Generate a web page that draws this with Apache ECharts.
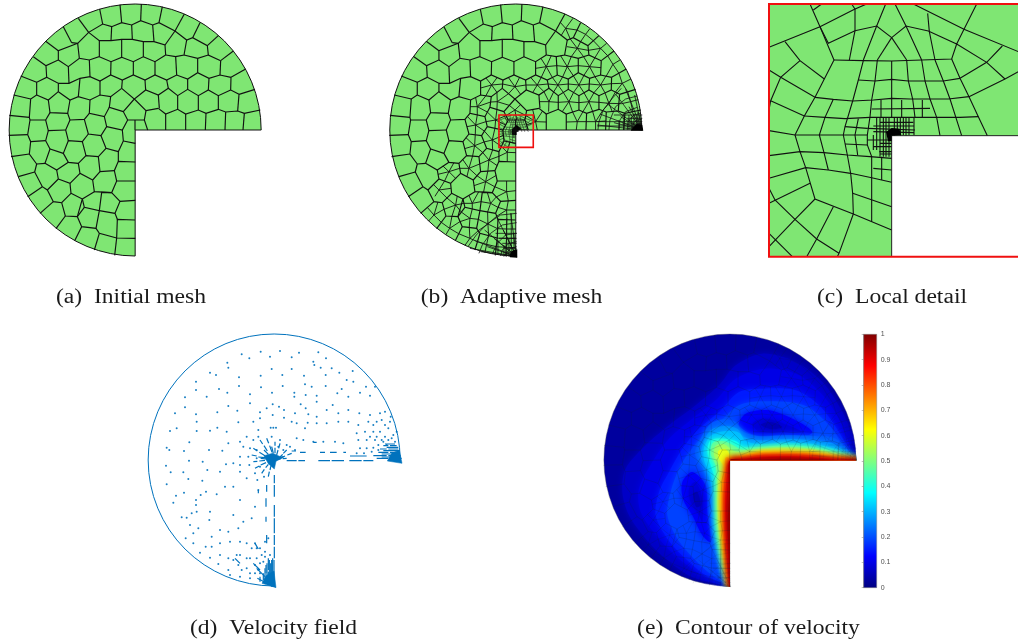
<!DOCTYPE html>
<html><head><meta charset="utf-8">
<style>html,body{margin:0;padding:0;background:#fff}#c{width:1018px;height:643px}</style>
<script src="https://cdn.jsdelivr.net/npm/echarts@6/dist/echarts.min.js"></script>
</head><body><div id="c"></div>
<script>
const captions = ['(a)  Initial mesh','(b)  Adaptive mesh','(c)  Local detail','(d)  Velocity field','(e)  Contour of velocity'];
const colorbarTicks = [0,0.1,0.2,0.3,0.4,0.5,0.6,0.7,0.8,0.9,1];
const domainCenter = [405.5,390];
const domainRadius = 378;

const meshA = [
[765,268,717,283],[737,207,693,232],[700,153,662,182],[655,107,622,137],[600,68,578,113],[553,42,525,93],[487,20,477,68],[424,12,422,62],[360,14,365,68],[299,27,308,72],[235,55,266,97],[190,80,215,128],[137,124,175,152],[100,170,138,197],[62,228,110,247],[41,285,92,297],[28,346,88,352],[26,406,83,404],[33,470,88,462],[55,530,104,516],[83,590,127,560],[120,640,160,605],[168,686,196,648],[224,722,245,680],[283,750,298,700],[344,766,350,714],
[717,283,692,270,693,232],[662,182,625,165,622,137,578,113,560,120,525,93,477,68,458,75,422,62,395,75,365,68,335,80,308,72,266,97,233,130,215,128],
[233,130,175,152,175,180,138,197,140,232,110,247,110,285,92,297,88,352,90,360,83,404,92,425,88,462,110,492,104,516,127,560,142,570,160,605,185,608,196,648,232,650,245,680,288,685,298,700,350,714],
[406,715,350,714,352,658,405,660],[406,601,360,604,345,640,352,658],[406,543,350,543,335,578,360,604],[406,486,355,484,343,512,350,543],[406,430,370,423],
[335,80,333,122],[395,75,397,118],[458,75,462,125],[525,93,495,135],
[266,97,298,122,333,122,365,118,397,118,430,125,462,125,495,135,497,165],[298,122,298,170,268,180,238,175,233,130],[238,175,205,200,175,180],
[365,118,365,172,333,185,298,170],[430,125,430,170,400,185,365,172],[497,165,465,185,430,170],[560,120,552,165,527,170,497,165],[552,165,593,175,625,165],
[268,180,270,230],[205,200,207,250],[333,185,332,225],[400,185,400,225],[465,185,465,225],[527,170,530,225],[593,175,593,218],[662,182,660,225],
[175,250,207,250,240,235,270,230,300,243,332,225,367,240,400,225,435,240,465,225,500,240,530,225,563,237,593,218,627,235,660,225,693,232],[140,232,175,250,175,275],
[500,240,505,265],[563,237,563,268],[627,235,625,270],[435,240,437,270],[367,240,365,265],[300,243,300,285],[240,235,235,290],
[692,270,655,287,625,270,595,287,563,268,533,287,505,265,475,285,437,270,403,297,438,332,475,325],[475,285,478,325],
[781,330,733,340,713,333,677,336,655,328,618,340,595,330,557,342,533,328,497,342,475,325],[713,333,717,283],[655,328,655,287],[595,330,595,287],[533,328,533,287],
[729,390,733,340],[675,390,677,336],[616,390,618,340],[557,390,557,342],[497,390,497,342],[443,390,433,360,438,332],[405,360,405,390],[383,360,433,360],
[365,265,403,297,370,335,383,360],[365,265,332,290,300,285,270,300,235,290,210,300,175,275,145,300,110,285],[332,290,328,322,370,335],
[270,300,268,340,313,350,328,322],[210,300,203,340,150,338,145,300],[268,340,253,358,210,360,203,340],[253,358,265,402,303,407,320,380,313,350],[320,380,367,390,383,360],[367,390,370,423,355,455,355,484],
[303,407,318,445,355,455],[318,445,295,470,300,515,343,512],[300,515,278,540,283,575,335,578],[295,470,258,467,235,490,240,520,278,540],[258,467,247,425,265,402],[247,425,205,422,190,460,205,487,235,490],[205,422,197,390,210,360],[190,460,150,447,135,490,170,510,205,487],[197,390,145,392,137,422,150,447],[137,422,92,425],[90,360,137,360,145,392],[150,338,137,360],[135,490,110,492],[170,510,175,537,142,570],[175,537,210,550,240,520],[210,550,213,580,185,608],[213,580,247,597,232,650],[247,597,283,575],[247,597,253,622,298,632,288,685],[253,622,232,650],[298,632,305,577,335,578],[298,632,345,640]
];

const starsB = [
[497,200,481,175,512,167,528,197,515,232,482,232,465,205],[560,200,540,167,572,170,593,197,578,227,546,231,528,197],[627,200,609,170,643,173,661,203,643,230,610,226,593,197],[697,193,681,167,718,180,715,220,677,228],[590,145,600,125,623,151,609,170,572,170,559,140,569,117],[660,145,638,122,678,130,681,167,643,173,623,151],[555,85,539,67,577,55,589,90,569,117,542,106],[615,103,627,87,638,122,600,125,589,90],
[470,255,450,232,482,232,502,252,490,275,456,278,436,255],[532,255,515,232,546,231,563,252,548,277,519,276,502,252],[595,255,578,227,610,226,626,252,610,278,579,277,563,252],[660,255,643,230,676,228,692,251,673,278,640,278,626,252],[725,250,715,220,751,237,741,275,704,277,692,251],
[505,305,519,276,533,307,504,335,476,305,490,275],[565,305,548,277,579,277,595,308,576,336,545,335,533,307],[625,305,610,278,640,278,655,307,636,334,607,335,595,308],[685,310,673,278,704,277,723,311,695,335,666,332,655,307],[750,305,741,275,773,299,757,335,723,311],
[465,365,456,328,486,333,497,366,470,390,438,375,435,346],[590,365,576,336,607,335,617,365,587,390,557,366],[645,365,636,334,666,332,676,363,645,390,617,365],
[403,330,420,314,435,346,408,360,376,347,386,316],[403,260,383,232,417,232,436,255,420,283,384,281,366,252],[333,255,316,234,350,232,366,252,349,277,316,287,300,264],[350,305,384,281,386,316,349,328,330,306,349,277],[290,320,285,292,316,287,330,306,320,336,290,345,269,320],[345,360,349,328,376,347,375,375,343,385,316,365,320,336],[285,375,260,349,290,345,316,365,311,393,284,404,259,380],[335,420,343,385,368,406,362,439,336,450,310,426,311,393],[282,437,284,404,310,426,306,457,276,468,252,446,256,413],[325,480,336,450,355,469,350,497,322,512,297,492,306,457],[265,505,276,468,297,492,289,527,259,530,237,505,246,478],[315,545,322,512,347,526,342,560,309,576,280,557,289,527],
[205,515,220,488,237,505,225,535,192,543,172,523,187,498],[175,570,192,543,211,565,199,594,163,589,158,553],[225,615,230,588,250,610,242,636,214,649,190,628,199,594],[275,610,265,586,294,576,301,605,275,627,250,610],[330,610,320,577,347,591,352,622,321,636,301,605],[378,575,378,543,406,572,383,602,347,591,342,560],[268,655,275,627,293,658,266,682,238,665,242,636],[322,672,321,636,348,649,351,686,324,707,293,692,293,658],[378,630,383,602,406,630,379,659,348,649,352,622],[378,687,379,659,406,687,378,714,351,686],[376,742,378,714,406,743,375,768,347,740],[318,733,324,707,347,740,313,758,290,725],[268,715,266,682,293,692,290,725,253,736,234,701],[207,685,214,649,238,665,234,701,196,704,182,667],[160,645,172,606,190,628,182,667,144,663,140,622],[380,457,388,426,406,458,380,485,355,469,362,439]
];

const tipRight = [
[652,390,655,365,668,330,695,295,722,265],[685,390,688,360,705,320,735,297,770,288],[715,390,718,360,735,335,770,322],[740,390,742,365,760,345,781,340],[755,390,757,370,770,360,783,358],[765,390,767,375,783,370],[773,390,775,380,784,378],
[785,390,650,375],[785,390,658,342],[785,390,678,310],[785,390,705,282],[785,390,735,268],[785,390,762,285],[650,365,785,365],[650,378,785,378],[700,345,785,345],[715,360,715,390],[730,345,730,390],[745,345,745,390],[760,340,760,390],[772,335,772,390],[785,390,700,368],[785,390,720,350],[785,390,745,320],[725,372,785,372],[740,355,785,355],[752,350,752,390],[767,350,767,390],[778,345,778,390]
];
const tipBottom = [
[408,640,360,645,322,670,287,705,262,740],[408,668,365,675,330,700,305,735,295,760],[408,700,375,705,350,730,335,762],[408,725,385,730,365,750,360,768],[408,740,390,745,378,758,375,769],[408,750,393,755,388,770],[408,758,398,762,396,770],
[408,770,390,640],[408,770,350,655],[408,770,312,690],[408,770,284,722],[408,770,268,745],[408,770,300,755],[392,640,392,770],[378,655,378,770],[345,700,408,700],[355,715,408,715],[365,730,408,730],[370,745,408,745],[375,757,408,757],[352,720,352,765],[408,770,368,690],[408,770,340,715],[408,770,320,740],[385,715,385,770],[400,700,400,770],[370,735,370,770],[380,765,408,765]
];
const blobsB = [[768,372,785,374,788,392,750,392,758,382],[395,752,410,748,410,773,388,772,388,762],[394,388,408,375,424,388,408,392,408,405,394,404]];

const boxB = [355,345,458,345,458,442,355,442];
const boxC = [27,12,790,12,790,770,27,770];
const cutC = [395,407,790,407,790,768,395,768];
const wallC = [[790,407,395,407,395,770]];
const blobC = [378,396,395,384,418,386,424,405,395,407,395,424,384,424];
const meshC = [
[150,12,180,80,222,180,165,292,133,348,105,405,120,455,137,503,165,597,280,642,395,690],[160,30,185,12],[275,12,285,27,320,12],[285,27,285,92],
[27,142,180,80,285,27],[75,125,120,182,193,237],[120,182,62,232,32,302,27,330],[27,210,62,232,165,292],[32,302,133,348],
[180,80,205,130,285,92,350,78,395,113,438,78,505,93,590,132,612,88,650,12],[285,92,268,180],[377,12,350,78,310,180],[405,12,438,78,485,180],[460,12,612,88,775,155],[503,40,508,95,525,180],[395,113,352,180],[395,113,440,180],
[222,180,310,182,395,183,485,180,575,177,590,132],[575,177,600,235,627,290,655,350,682,407],[590,132,680,187,735,237],[600,235,680,187,727,138],[627,290,735,237,775,215],
[165,292,220,298,278,303,340,300,395,295,450,297,510,297,565,297,627,290],[295,240,345,243,395,238,445,243,495,243,550,243,600,235],
[310,182,295,240,278,303,255,380,250,405],[352,180,345,243,335,300,330,350,322,405],[395,183,395,352],[440,180,445,243,458,297,465,352],[485,180,495,243,510,297,530,352,540,407],[525,180,550,243,570,297,605,407],
[133,348,195,352,255,356,330,352,395,352,465,352,530,352,600,352,655,350],[220,298,195,352,178,405],[27,392,105,405,178,405,250,405,322,405],[178,405,192,458,205,510],[250,405,262,465,272,520,278,580,280,642],
[27,467,120,455,192,458,262,465,330,470,395,475],[27,535,137,503,205,510,272,520,335,533,395,547],[278,580,395,620],[335,533,335,665],[27,610,150,550],[27,565,45,600,105,658,170,717,237,760],[165,597,105,658,27,740],[220,620,170,717,140,770],[280,642,237,760,232,770],[27,700,97,770],
[335,327,510,325],[363,300,363,352],[425,300,425,352],[487,300,487,352],[295,356,285,405,293,465],[255,380,322,385],[255,432,322,435],[322,405,322,435,335,470,335,533],[340,505,395,510],[365,470,365,540],[358,455,395,455],
[360,352,360,470],[378,352,378,470],[412,352,412,405],[430,352,430,405],[447,352,447,405],[462,352,462,405],[322,385,465,390],[360,367,460,367],[322,420,395,420],[340,440,395,440],[340,405,340,450],[350,352,350,450],[370,352,370,470],[387,352,387,470],[403,352,403,407],[421,352,421,407],[438,352,438,407],[340,395,462,398],[340,378,462,378],[360,430,395,430],[360,462,395,462]
];

const dotsD = [420,78,362,80,305,88,328,100,390,95,455,97,477,83,535,82,558,100,520,110,523,120,575,130,542,128,262,113,265,128,395,132,455,132,210,143,228,150,297,157,362,152,427,150,492,152,168,170,557,150,598,143,638,138,620,165,640,170,168,195,237,192,297,183,363,187,428,183,495,178,515,185,557,183,605,192,678,185,135,217,200,215,262,203,330,208,396,203,463,203,463,215,497,210,530,212,592,205,625,215,660,203,690,212,705,185,
105,265,135,247,168,268,232,262,265,243,292,257,295,292,330,235,360,262,360,280,380,250,398,238,417,245,432,255,432,278,398,270,392,308,400,308,408,308,465,265,482,238,497,250,530,230,560,255,578,240,595,265,625,255,658,265,690,270,720,265,735,260,752,275,
505,268,530,275,503,293,470,295,455,290,495,310,530,295,560,295,595,290,625,290,655,300,685,290,710,290,725,285,750,290,770,320,650,325,675,320,700,320,720,320,745,310,655,345,680,345,705,345,725,345,520,350,550,350,585,350,610,355,490,345,470,340,
260,320,232,308,210,317,170,318,110,310,90,318,170,290,148,352,207,375,247,377,265,355,300,350,320,335,340,290,355,315,80,368,88,375,132,378,78,422,92,442,130,442,147,407,188,410,145,462,187,467,202,435,240,440,258,418,280,415,300,440,320,460,352,465,355,495,80,478,108,512,132,503,100,533,182,510,168,525,198,500,230,508,255,485,280,485,300,525,345,545,335,580,310,590,280,570,168,540,155,565,170,560,125,577,140,578,210,560,208,585,150,600,175,610,215,635,240,615,265,620,295,610,137,640,160,655,160,625,197,665,215,665,240,655,270,650,300,650,180,683,210,698,240,690,235,717,265,700,290,690,265,735,295,720,320,700,345,655,350,670,270,750,300,755,330,760,320,730,350,700,375,650,385,640,
660,370,680,370,700,368,650,385,672,385,695,380,715,375,700,300,735,300,760,330,690,335,710,335,735,335,755,340,320,655,335,670,300,690,330,700,360,670,365,690,345,720,370,710,280,705,305,735,330,745,355,735,
340,345,355,335,395,335,420,345,440,360,330,370,325,395,328,420,345,445,372,455,310,365,300,395,300,420,350,375,350,400,360,425,415,365,430,375,450,365,465,375,730,350,745,345,765,350,715,360,740,360,375,680,390,690,360,715,345,745,360,745,375,695];
const arrowsD = [
[360,345,368,357],[372,362,382,378],[340,370,352,378],[358,382,375,392],[335,390,350,393],[355,396,375,398],[340,410,352,409],[358,408,375,406],[345,430,358,423],[362,420,378,413],[365,445,373,433],[377,428,385,418],[385,455,388,440],[390,435,393,422],[380,340,386,355],[389,362,396,382],[405,350,405,362],[405,368,405,385],[420,355,416,370],[414,375,410,390],[440,375,430,385],[428,388,420,396],[455,385,442,390],[435,393,420,400],[440,400,428,401],[422,402,410,403],[372,375,385,388],[362,400,380,402],[395,365,400,385],[432,395,415,398],
[440,407,470,407],[475,407,495,407],[535,407,570,407],[575,407,612,407],[628,407,665,407],[670,407,700,407],[630,393,680,393],[540,382,555,382],[570,382,590,382],[480,382,497,382],[455,378,468,378],[610,382,618,382],[520,352,530,352],
[403,450,403,475],[403,480,403,515],[403,540,403,575],[403,580,403,625],[403,630,403,660],[403,665,403,700],[380,480,380,500],[378,520,378,545],[378,575,378,590],[380,630,380,655],[355,495,355,505],
[730,362,745,362],[750,362,770,362],[720,372,740,372],[745,372,775,372],[715,382,745,382],[750,382,780,382],[700,392,740,392],[745,392,782,392],[710,400,745,400],[750,400,785,400],[735,357,765,357],[740,367,775,367],[730,377,780,377],[725,387,780,387],[725,396,783,396],
[378,720,378,745],[385,700,385,735],[385,740,385,770],[392,715,392,750],[392,755,392,780],[398,700,398,745],[398,750,398,785],[370,745,370,765],[360,755,360,770],[352,760,375,772],[375,730,375,765],[381,715,381,775],[388,705,388,780],[395,705,395,785],[402,705,402,785],
[345,655,355,672],[285,700,300,715],[340,715,360,735],[350,730,375,755]
];
const blobsD = [[372,392,398,385,428,398,408,409,403,432,385,416],[755,385,778,375,786,415,742,408],[378,752,402,738,408,788,366,775]];

const contourLevels = [0.07,0.1,0.15,0.19,0.12,0.09,0.055,0.12,0.09,0.055,0.21,0.26,0.31,0.38,0.46,0.52,0.6,0.68,0.77,0.86,0.93,0.98];
const contourPolys = [
[785,405,770,330,735,250,680,170,600,110,500,85,420,120,370,180,300,240,220,300,150,360,90,430,80,500,100,570,150,640,210,700,290,755,403,787],
[780,405,745,310,690,220,610,150,510,130,420,160,360,225,290,280,220,340,170,410,130,490,135,560,190,640,250,700,320,750,403,785],
[775,405,730,320,670,240,600,195,500,190,430,200,370,260,310,310,260,370,220,440,190,500,180,570,215,640,270,700,330,750,403,785],
[765,395,705,305,625,240,500,228,430,240,370,292,305,350,255,420,225,500,215,570,245,640,295,700,350,750,403,785],
[430,300,450,265,520,255,600,285,650,320,620,335,550,330,480,330],
[470,295,500,280,550,290,620,320,560,320,490,318],
[495,298,525,290,560,305,530,312],
[260,470,290,440,330,480,335,560,345,650,320,630,290,570,262,520],
[280,490,300,470,320,520,320,590,310,570,285,530],
[292,505,305,500,315,540,302,545],
[785,405,720,340,650,332,570,330,490,333,440,318,420,290,385,282,345,295,315,340,298,385,322,430,343,500,348,600,368,700,403,787],
[785,405,720,358,650,345,570,341,490,345,445,335,425,310,385,302,345,315,322,355,315,395,335,440,352,510,355,605,374,705,403,787],
[785,405,720,372,650,356,570,352,490,356,450,347,430,322,385,318,345,332,325,368,325,405,345,450,358,520,360,610,378,710,403,787],
[785,405,720,380,650,365,570,360,490,365,445,365,420,347,385,340,345,345,335,378,345,420,360,470,362,540,366,620,384,720,403,787],
[785,405,720,385,650,370,570,365,490,370,442,374,412,360,385,348,352,352,345,385,360,420,365,470,364,540,369,625,386,725,403,787],
[785,405,720,388,650,374,570,369,490,373,440,382,410,375,385,357,360,362,355,390,370,420,368,470,366,540,372,630,388,730,403,787],
[785,405,720,392,650,380,570,376,490,378,440,390,410,395,390,372,368,377,370,400,385,425,375,470,372,540,378,640,392,740,403,787],
[785,405,720,396,650,385,570,382,490,384,440,394,405,403,395,395,388,400,390,425,380,470,378,540,383,640,395,745,403,787],
[785,405,720,399,650,390,570,387,490,389,440,397,403,405,392,430,385,480,383,540,387,640,397,750,403,787],
[785,405,720,402,650,395,570,392,490,394,440,400,403,405,396,440,390,490,388,550,391,640,399,760,403,787],
[785,405,720,404,650,398,570,396,490,397,440,402,403,405,399,450,394,500,392,560,395,640,401,770,403,787],
[720,405,570,400,440,404,403,405,401,500,396,600,401,720,403,760]
];
const contourCenter = [403,405];
const contourRadius = 379;
const contourClose = [420,815,815,815,815,420];

const pts = a => { const r=[]; for(let i=0;i<a.length;i+=2) r.push([a[i],a[i+1]]); return r; };
const lineData = list => list.map(a => ({coords: pts(a)}));
const starSegs = list => { const r=[]; list.forEach(s => { for(let i=2;i<s.length;i+=2) r.push({coords:[[s[0],s[1]],[s[i],s[i+1]]]}); }); return r; };
function jet(v){
  const f = a=>Math.max(0,Math.min(1,a));
  const r=f(1.5-Math.abs(4*v-3)), g=f(1.5-Math.abs(4*v-2)), b=f(1.5-Math.abs(4*v-1));
  return `rgb(${Math.round(r*255)},${Math.round(g*255)},${Math.round(b*255)})`;
}
const grid = (l,t,w,h)=>({left:l,top:t,width:w,height:h,show:false,containLabel:false});
const grids = [
 grid(0,0,270,270), grid(380.6,0,270,270), grid(498.3,115,34.3,32.3), grid(760,0,258,265),
 grid(139,330,270,270), grid(140,325,270,270), grid(595.67,325.3,270,270), grid(594.7,330,270,270), grid(863.7,334.3,13,253.4)
];
const ranges = [[0,810,0,810],[0,810,0,810],[27,775,12,770],[0,774,0,795],[0,810,0,810],[0,810,0,810],[0,810,0,810],[0,810,0,810]];
const xAxes=[], yAxes=[];
ranges.forEach((r,i)=>{
  xAxes.push({type:'value',gridIndex:i,min:r[0],max:r[1],show:false});
  yAxes.push({type:'value',gridIndex:i,min:r[2],max:r[3],inverse:true,show:false});
});
xAxes.push({type:'value',gridIndex:8,min:0,max:1,show:false});
yAxes.push({type:'value',gridIndex:8,min:0,max:1,interval:0.1,position:'right',
  axisLine:{show:true,lineStyle:{color:'#808080',width:0.6}},
  axisTick:{show:true,inside:true,length:2,lineStyle:{color:'#808080',width:0.5}},splitLine:{show:false},
  axisLabel:{show:true,fontSize:7,color:'#505050',margin:4,fontFamily:'Liberation Sans',
    customValues:colorbarTicks,formatter:v=>String(Math.round(v*10)/10)}});

const polys = (g,list,style,z)=>({type:'custom',xAxisIndex:g,yAxisIndex:g,z:z,silent:true,clip:false,
  data:list.map((_,i)=>[i]),encode:{x:[],y:[]},
  renderItem:(p,api)=>({type:'polygon',shape:{points:pts(list[api.value(0)]).map(q=>api.coord(q))},style:style})});
const lines = (g,data,color,width,z,op)=>({type:'lines',coordinateSystem:'cartesian2d',xAxisIndex:g,yAxisIndex:g,polyline:true,z:z,silent:true,
  lineStyle:{color:color,width:width,opacity:op===undefined?1:op,curveness:0},data:data});
const ANG = {startAngle:Math.PI/2,endAngle:Math.PI*2,clockwise:true};
const domain = (g,style,z)=>({type:'custom',xAxisIndex:g,yAxisIndex:g,z:z,silent:true,clip:false,data:[[0]],encode:{x:[],y:[]},
  renderItem:(p,api)=>{const c=api.coord(domainCenter),r=api.size([domainRadius,domainRadius])[0];
    return {type:'sector',shape:Object.assign({cx:c[0],cy:c[1],r:r,r0:0},ANG),style:style};}});
const arcLine = (g,color,width,z)=>({type:'custom',xAxisIndex:g,yAxisIndex:g,z:z,silent:true,clip:false,data:[[0]],encode:{x:[],y:[]},
  renderItem:(p,api)=>{const c=api.coord(domainCenter),r=api.size([domainRadius,domainRadius])[0];
    return {type:'arc',shape:Object.assign({cx:c[0],cy:c[1],r:r},ANG),style:{fill:null,stroke:color,lineWidth:width}};}});
const contourSeries = (g,z)=>({type:'custom',xAxisIndex:g,yAxisIndex:g,z:z,silent:true,clip:false,data:[[0]],encode:{x:[],y:[]},
  renderItem:(p,api)=>{
    const c=api.coord(contourCenter),r=api.size([contourRadius,contourRadius])[0];
    const kids=contourPolys.map((a,i)=>{
      const wall=a[a.length-1]>=750;
      const q=wall?a.concat(contourClose):a;
      const col=jet(contourLevels[i]);
      return {type:'polygon',shape:{points:pts(q).map(t=>api.coord(t)),smooth:0.3},style:{fill:col,shadowBlur:7,shadowColor:col}};
    });
    return {type:'group',clipPath:{type:'sector',shape:Object.assign({cx:c[0],cy:c[1],r:r,r0:0},ANG)},children:kids};
  }});

const GREEN='#7fe673', BLUE='#0072BD', LW=1.15;
const series=[
 // (a)
 domain(0,{fill:GREEN,stroke:'#111',lineWidth:1},1),
 lines(0,lineData(meshA),'#111',LW,2),
 // (b)
 domain(1,{fill:GREEN,stroke:'#111',lineWidth:1},1),
 lines(1,lineData(meshA),'#111',LW,2),
 lines(1,starSegs(starsB),'#111',0.9,2),
 lines(1,lineData(tipRight),'#111',0.8,2),
 lines(1,lineData(tipBottom),'#111',0.8,2),
 polys(1,blobsB,{fill:'#000'},3),
 lines(2,lineData(meshC),'#111',0.5,3),
 polys(1,[boxB],{fill:'none',stroke:'#f01010',lineWidth:1.6},4),
 // (c)
 polys(3,[boxC],{fill:GREEN},1),
 polys(3,[cutC],{fill:'#fff'},2),
 lines(3,lineData(meshC),'#111',1.1,3),
 lines(3,lineData(wallC),'#222',1,3),
 polys(3,[blobC],{fill:'#000'},4),
 polys(3,[boxC],{fill:'none',stroke:'#f01010',lineWidth:2},5),
 // (d)
 arcLine(4,BLUE,1,1),
 {type:'scatter',xAxisIndex:5,yAxisIndex:5,symbolSize:2,z:2,silent:true,itemStyle:{color:BLUE,opacity:0.9},data:pts(dotsD)},
 lines(5,lineData(arrowsD),BLUE,1.2,2),
 polys(5,blobsD,{fill:BLUE,stroke:BLUE,lineWidth:0.5},2),
 // (e)
 domain(7,{fill:jet(0.03),stroke:'#666',lineWidth:0.4},1),
 contourSeries(6,2),
 lines(7,lineData(meshA),'#102030',0.35,4,0.55),
 lines(7,starSegs(starsB),'#102030',0.3,4,0.5),
 lines(7,lineData(tipRight),'#102030',0.25,4,0.4),
 lines(7,lineData(tipBottom),'#102030',0.25,4,0.4),
 // colour bar
 {type:'custom',xAxisIndex:8,yAxisIndex:8,z:2,silent:true,data:[[0]],encode:{x:[],y:[]},renderItem:(p,api)=>{
   const a=api.coord([0,1]),b=api.coord([1,0]);
   const stops=[[0,jet(1)],[0.125,jet(0.875)],[0.375,jet(0.625)],[0.625,jet(0.375)],[0.875,jet(0.125)],[1,jet(0)]];
   return {type:'rect',shape:{x:a[0],y:a[1],width:b[0]-a[0],height:b[1]-a[1]},
     style:{stroke:'#808080',lineWidth:0.5,fill:new echarts.graphic.LinearGradient(0,0,0,1,stops.map(s=>({offset:s[0],color:s[1]})))}};
 }}
];
const capPos=[[131,298],[511.5,298],[892,298],[273.5,629],[748.5,629]];
const capText=captions.map((t,i)=>({type:'text',x:capPos[i][0],y:capPos[i][1],scaleX:1.18,z:10,silent:true,
  style:{text:t,fill:'#1a1a1a',font:'20px "Liberation Serif"',textAlign:'center',textVerticalAlign:'middle'}}));
const chart=echarts.init(document.getElementById('c'),null,{renderer:'canvas'});
chart.setOption({animation:false,backgroundColor:'#fff',grid:grids,xAxis:xAxes,yAxis:yAxes,series:series,graphic:{elements:capText}});
</script></body></html>
